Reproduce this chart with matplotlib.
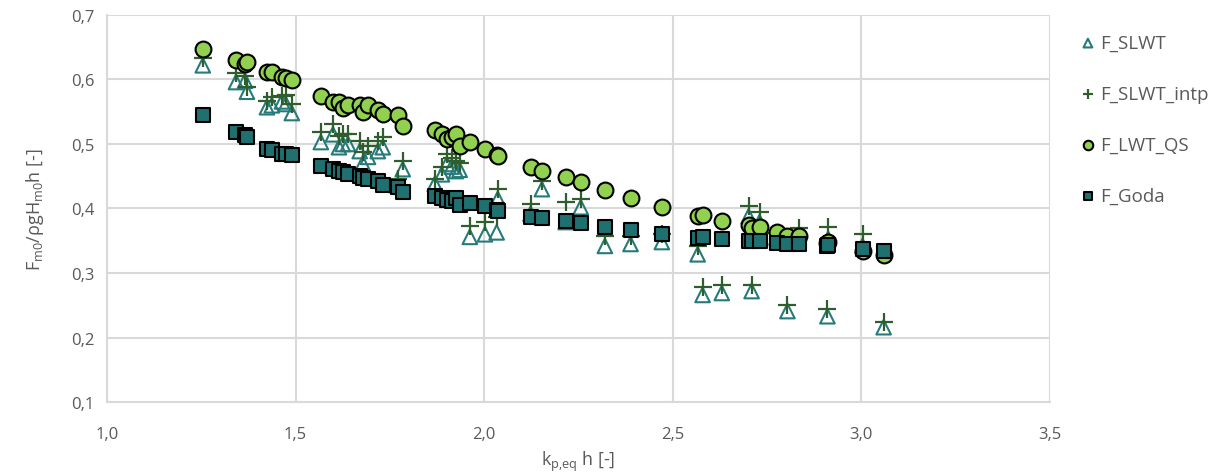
import matplotlib.pyplot as plt
import numpy as np

plt.rcParams['font.family'] = ['Open Sans', 'DejaVu Sans']

# kp,eq h [-]
kh = [1.254, 1.342, 1.366, 1.371, 1.424, 1.437, 1.464, 1.474, 1.490,
      1.567, 1.599, 1.615, 1.625, 1.639, 1.670, 1.678, 1.692, 1.718, 1.731, 1.771, 1.784,
      1.869, 1.888, 1.901, 1.914, 1.925, 1.935, 1.962, 2.002, 2.033, 2.036,
      2.123, 2.153, 2.216, 2.256, 2.320, 2.388, 2.471,
      2.566, 2.579, 2.630, 2.701, 2.709, 2.730, 2.775, 2.804, 2.834, 2.910, 2.912, 3.003, 3.059]

f_slwt = [0.622, 0.596, 0.598, 0.581, 0.557, 0.560, 0.566, 0.562, 0.548,
          0.503, 0.515, 0.495, 0.500, 0.500, 0.489, 0.470, 0.480, 0.489, 0.495, 0.435, 0.461,
          0.438, 0.453, 0.469, 0.465, 0.458, 0.460, 0.356, 0.360, 0.363, 0.415,
          0.392, 0.430, 0.379, 0.402, 0.342, 0.345, 0.348,
          0.329, 0.266, 0.269, 0.388, 0.272, 0.379, 0.355, 0.241, 0.356, 0.233, 0.353, 0.342, 0.216]

f_slwt_intp = [0.633, 0.610, 0.605, 0.588, 0.567, 0.573, 0.574, 0.576, 0.562,
               0.519, 0.531, 0.513, 0.515, 0.515, 0.505, 0.487, 0.497, 0.505, 0.511, 0.446, 0.474,
               0.446, 0.464, 0.484, 0.478, 0.474, 0.470, 0.373, 0.379, 0.387, 0.430,
               0.407, 0.443, 0.410, 0.415, 0.357, 0.357, 0.360,
               0.342, 0.278, 0.281, 0.404, 0.281, 0.395, 0.362, 0.251, 0.370, 0.244, 0.371, 0.361, 0.224]

f_lwt_qs = [0.647, 0.630, 0.624, 0.627, 0.612, 0.611, 0.604, 0.602, 0.599,
            0.575, 0.565, 0.565, 0.556, 0.560, 0.561, 0.550, 0.561, 0.553, 0.547, 0.545, 0.528,
            0.522, 0.515, 0.508, 0.511, 0.516, 0.497, 0.503, 0.492, 0.483, 0.481,
            0.464, 0.458, 0.449, 0.441, 0.429, 0.416, 0.402,
            0.388, 0.390, 0.381, 0.375, 0.370, 0.371, 0.364, 0.357, 0.357, 0.346, 0.348, 0.334, 0.328]

f_goda = [0.545, 0.519, 0.514, 0.511, 0.492, 0.490, 0.485, 0.484, 0.483,
          0.466, 0.461, 0.458, 0.456, 0.453, 0.450, 0.447, 0.446, 0.443, 0.436, 0.433, 0.426,
          0.419, 0.416, 0.413, 0.411, 0.416, 0.405, 0.409, 0.404, 0.398, 0.396,
          0.387, 0.385, 0.381, 0.378, 0.371, 0.367, 0.360,
          0.355, 0.356, 0.353, 0.349, 0.349, 0.349, 0.347, 0.345, 0.345, 0.342, 0.344, 0.337, 0.334]

xticks = [1.0, 1.5, 2.0, 2.5, 3.0, 3.5]
xtick_labels = ['1,0', '1,5', '2,0', '2,5', '3,0', '3,5']
yticks = [0.1, 0.2, 0.3, 0.4, 0.5, 0.6, 0.7]
ytick_labels = ['0,1', '0,2', '0,3', '0,4', '0,5', '0,6', '0,7']

fig = plt.figure(figsize=(12.13, 4.77), dpi=100)
ax = fig.add_axes([0.0882, 0.1551, 0.7774, 0.8114])

ax.scatter(kh, f_slwt, marker='^', s=110, facecolors='none', edgecolors='#267a7a',
           linewidths=1.5, label='F_SLWT', zorder=3)
ax.scatter(kh, f_slwt_intp, marker='+', s=150, color='#2e5e2b', linewidths=1.6,
           label='F_SLWT_intp', zorder=4)
ax.scatter(kh, f_lwt_qs, marker='o', s=130, facecolors='#92d050', edgecolors='black',
           linewidths=1.5, label='F_LWT_QS', zorder=5)
ax.scatter(kh, f_goda, marker='s', s=100, facecolors='#1f7070', edgecolors='black',
           linewidths=1.5, label='F_Goda', zorder=6)

ax.set_xlim(1.0, 3.5)
ax.set_ylim(0.1, 0.7)
ax.set_xticks(xticks)
ax.set_xticklabels(xtick_labels)
ax.set_yticks(yticks)
ax.set_yticklabels(ytick_labels)
ax.grid(True, color='#d9d9d9', linewidth=1.5, zorder=0)
ax.set_axisbelow(True)
for s in ['top', 'right']:
    ax.spines[s].set_visible(False)
for s in ['left', 'bottom']:
    ax.spines[s].set_color('#d9d9d9')
    ax.spines[s].set_linewidth(1.5)
ax.tick_params(length=0, labelsize=12, colors='#595959')
ax.tick_params(axis='x', pad=17)
ax.tick_params(axis='y', pad=9)

ax.set_xlabel(r'k$_\mathregular{p{,}eq}$ h [-]', fontsize=13, color='#595959', labelpad=5)
ax.set_ylabel(r'F$_\mathregular{m0}$/ρgH$_\mathregular{m0}$h [-]', fontsize=13,
              color='#595959', labelpad=18)

leg = fig.legend(loc='upper left', bbox_to_anchor=(0.876, 0.962), frameon=False,
                 fontsize=13.5, markerscale=0.6, labelspacing=1.75, handletextpad=0.2,
                 handlelength=0.9)
for t in leg.get_texts():
    t.set_color('#595959')

fig.savefig('out.png', dpi=100)
